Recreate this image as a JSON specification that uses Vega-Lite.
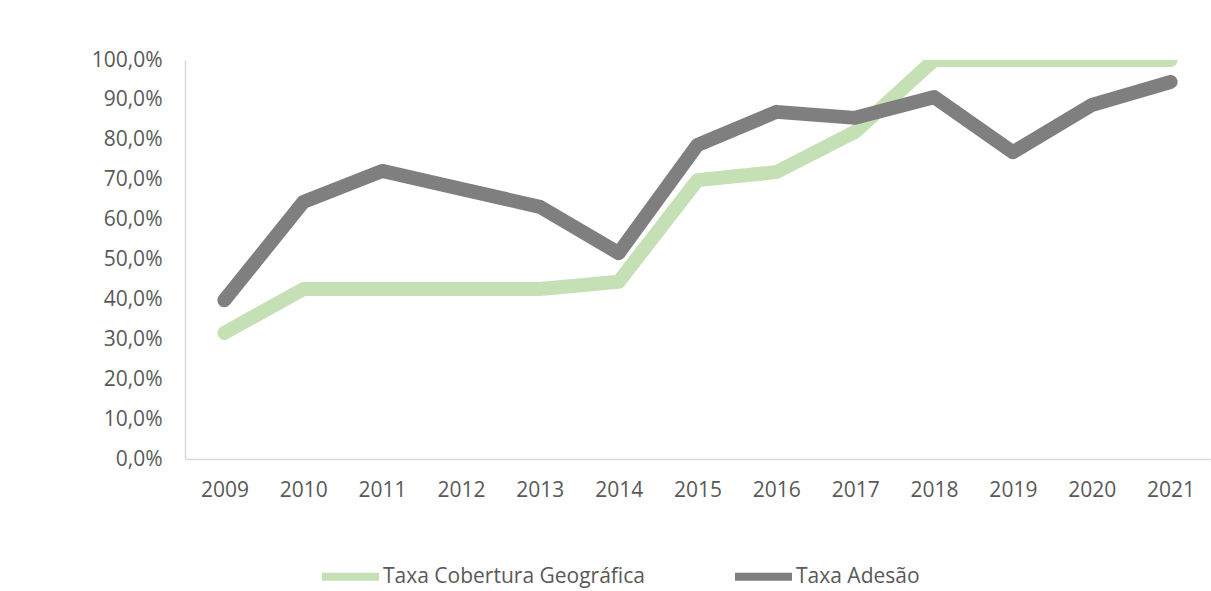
{
  "$schema": "https://vega.github.io/schema/vega-lite/v6.json",
  "width": 1025,
  "height": 399,
  "autosize": {"type": "none"},
  "padding": {"left": 185, "top": 60, "right": 1, "bottom": 132},
  "background": "white",
  "config": {
    "view": {"stroke": null},
    "font": "Open Sans",
    "axis": {"labelFont": "Open Sans", "labelColor": "#595959", "labelFontSize": 21}
  },
  "data": {
    "values": [
      {"ano": "2009", "serie": "Taxa Cobertura Geográfica", "valor": 0.316},
      {"ano": "2010", "serie": "Taxa Cobertura Geográfica", "valor": 0.426},
      {"ano": "2011", "serie": "Taxa Cobertura Geográfica", "valor": 0.426},
      {"ano": "2012", "serie": "Taxa Cobertura Geográfica", "valor": 0.426},
      {"ano": "2013", "serie": "Taxa Cobertura Geográfica", "valor": 0.426},
      {"ano": "2014", "serie": "Taxa Cobertura Geográfica", "valor": 0.444},
      {"ano": "2015", "serie": "Taxa Cobertura Geográfica", "valor": 0.699},
      {"ano": "2016", "serie": "Taxa Cobertura Geográfica", "valor": 0.719},
      {"ano": "2017", "serie": "Taxa Cobertura Geográfica", "valor": 0.82},
      {"ano": "2018", "serie": "Taxa Cobertura Geográfica", "valor": 1.0},
      {"ano": "2019", "serie": "Taxa Cobertura Geográfica", "valor": 1.0},
      {"ano": "2020", "serie": "Taxa Cobertura Geográfica", "valor": 1.0},
      {"ano": "2021", "serie": "Taxa Cobertura Geográfica", "valor": 1.0},
      {"ano": "2009", "serie": "Taxa Adesão", "valor": 0.398},
      {"ano": "2010", "serie": "Taxa Adesão", "valor": 0.644},
      {"ano": "2011", "serie": "Taxa Adesão", "valor": 0.722},
      {"ano": "2012", "serie": "Taxa Adesão", "valor": 0.677},
      {"ano": "2013", "serie": "Taxa Adesão", "valor": 0.632},
      {"ano": "2014", "serie": "Taxa Adesão", "valor": 0.516},
      {"ano": "2015", "serie": "Taxa Adesão", "valor": 0.787},
      {"ano": "2016", "serie": "Taxa Adesão", "valor": 0.87},
      {"ano": "2017", "serie": "Taxa Adesão", "valor": 0.855},
      {"ano": "2018", "serie": "Taxa Adesão", "valor": 0.907},
      {"ano": "2019", "serie": "Taxa Adesão", "valor": 0.769},
      {"ano": "2020", "serie": "Taxa Adesão", "valor": 0.887},
      {"ano": "2021", "serie": "Taxa Adesão", "valor": 0.945}
    ]
  },
  "encoding": {
    "x": {
      "field": "ano", "type": "ordinal", "title": null,
      "scale": {"type": "point", "padding": 0.5},
      "axis": {"labelAngle": 0, "ticks": false, "domainColor": "#D9D9D9", "domainWidth": 1.5, "labelPadding": 20, "grid": false}
    },
    "y": {
      "field": "valor", "type": "quantitative", "title": null,
      "scale": {"domain": [0, 1]},
      "axis": {"values": [0, 0.1, 0.2, 0.3, 0.4, 0.5, 0.6, 0.7, 0.8, 0.9, 1.0],
               "labelExpr": "replace(format(datum.value, '.1%'), '.', ',')",
               "ticks": false, "grid": false, "domainColor": "#D9D9D9", "domainWidth": 1.5, "labelPadding": 23}
    },
    "color": {
      "field": "serie", "type": "nominal",
      "scale": {"domain": ["Taxa Cobertura Geográfica", "Taxa Adesão"], "range": ["#C5E0B4", "#7F7F7F"]},
      "legend": {
        "title": null, "orient": "none", "direction": "horizontal",
        "legendX": 133, "legendY": 484,
        "symbolType": "stroke", "symbolSize": 3249, "symbolStrokeWidth": 8,
        "labelFont": "Open Sans", "labelFontSize": 21, "labelColor": "#595959",
        "labelOffset": 0, "columnPadding": 74, "labelLimit": 400
      }
    }
  },
  "layer": [
    {
      "transform": [{"filter": "datum.serie === 'Taxa Cobertura Geográfica'"}],
      "mark": {"type": "line", "strokeWidth": 14, "strokeCap": "round", "strokeJoin": "round", "clip": true}
    },
    {
      "transform": [{"filter": "datum.serie === 'Taxa Adesão'"}],
      "mark": {"type": "line", "strokeWidth": 14, "strokeCap": "round", "strokeJoin": "round", "clip": true}
    }
  ]
}
